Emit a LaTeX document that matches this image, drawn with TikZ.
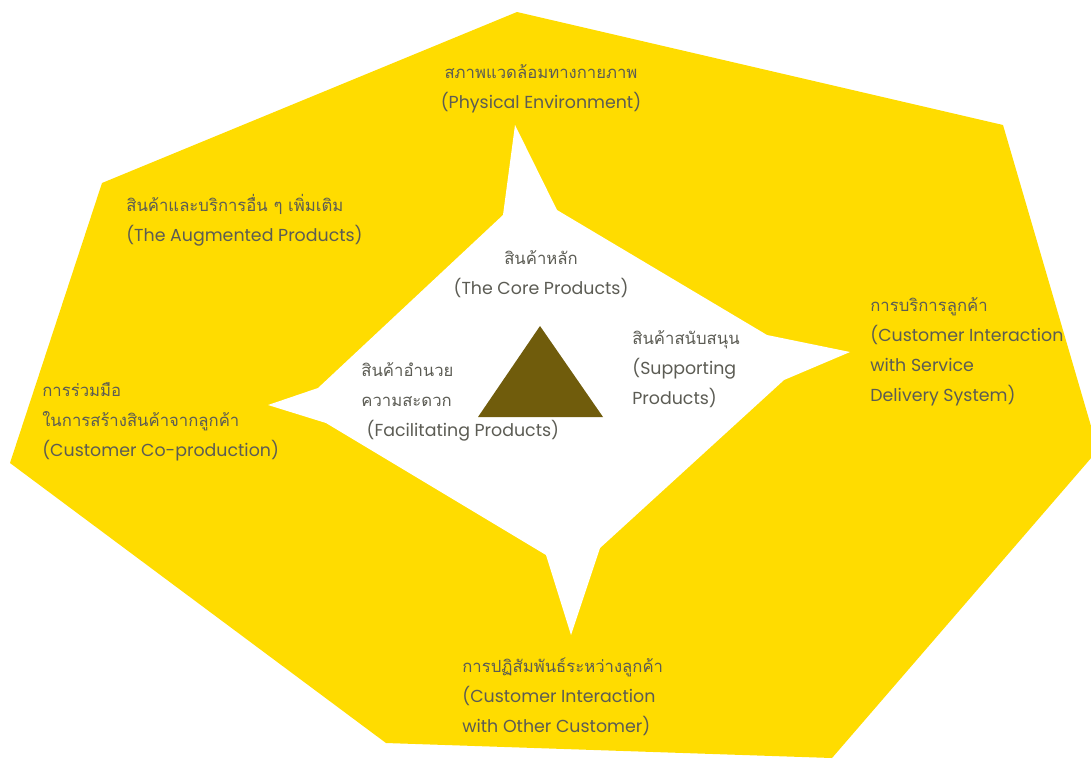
\documentclass[tikz,border=0pt]{standalone}
\usepackage{fontspec}
\setmainfont[Script=Thai]{Loma}
\newfontfamily\engfont{Poppins}
\newcommand\entxt[1]{{\engfont\fontsize{9.9}{17}\selectfont #1}}
\usepackage{tikz}
\definecolor{layeryellow}{RGB}{255,220,0}
\definecolor{coreolive}{RGB}{112,92,12}
\definecolor{labelgrey}{RGB}{92,92,84}

\begin{document}
\begin{tikzpicture}[x=0.02cm,y=-0.02cm,
  lbl/.style={font=\fontsize{9.5}{17}\selectfont,text=labelgrey,align=left,anchor=base west,inner sep=0pt},
  lblc/.style={lbl,align=center,anchor=base}]
\useasboundingbox (0,0) rectangle (1091,758);
% outer layer
\begin{scope}
\clip (0,0) rectangle (1091,758);
\fill[layeryellow] (517,12) -- (1003,125) -- (1098,450) -- (832,758) -- (386,743) -- (10,463) -- (102,183) -- cycle;
\end{scope}
% inner star
\fill[white] (515,125) -- (557,210) -- (767,335) -- (850,352) -- (784,380) -- (600,548) -- (571,635)
  -- (546,555) -- (326,423) -- (268,405) -- (318,388) -- (503,215) -- cycle;
% core triangle
\fill[coreolive] (540,326) -- (603,417) -- (478,417) -- cycle;
% labels (base = last line)
\node[lblc] (phys) at (541,108) {สภาพแวดล้อมทางกายภาพ\\\entxt{(Physical Environment)}};
\node[lbl] (augm) at (126,241) {สินค้าและบริการอื่น ๆ เพิ่มเติม\\\entxt{(The Augmented Products)}};
\node[lblc] (core) at (541,294) {สินค้าหลัก\\\entxt{(The Core Products)}};
\node[lbl] (serv) at (870,401) {การบริการลูกค้า\\\entxt{(Customer Interaction}\\\entxt{with Service}\\\entxt{Delivery System)}};
\node[lbl] (supp) at (632,404) {สินค้าสนับสนุน\\\entxt{(Supporting}\\\entxt{Products)}};
\node[lbl] (facil) at (361,436) {สินค้าอำนวย\\ความสะดวก\\\entxt{\hspace{3pt}(Facilitating Products)}};
\node[lbl] (coprod) at (42,456) {การร่วมมือ\\ในการสร้างสินค้าจากลูกค้า\\\entxt{(Customer Co-production)}};
\node[lbl] (other) at (462,732) {การปฏิสัมพันธ์ระหว่างลูกค้า\\\entxt{(Customer Interaction}\\\entxt{with Other Customer)}};
\end{tikzpicture}
\end{document}
